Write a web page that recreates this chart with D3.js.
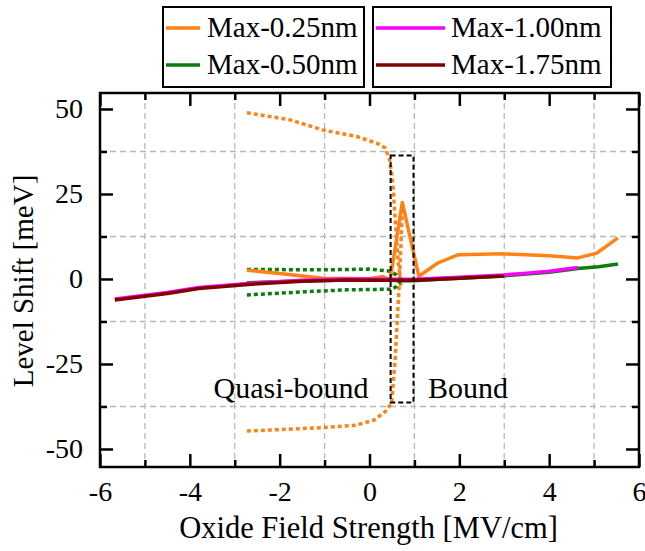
<!DOCTYPE html>
<html>
<head>
<meta charset="utf-8">
<script src="https://cdn.jsdelivr.net/npm/d3@7"></script>
<style>
  body { margin: 0; background: #fff; }
  text { font-family: "Liberation Serif", "Times New Roman", serif; fill: #000; }
</style>
</head>
<body>
<svg id="chart" width="645" height="551"></svg>
<script>
// data: [field MV/cm, shift meV]
var orangeSolid = [[-2.73,2.6],[-2,1.6],[-1.03,0.2],[0,0.1],[0.3,0.7],[0.46,-0.3],[0.73,22.5],[1.1,0.8],[1.52,4.7],[1.97,7.1],[2.97,7.4],[4,6.8],[4.64,6.2],[5.06,7.6],[5.53,12.1]];
var orangeUpper = [[-2.73,48.9],[-1.77,46.8],[-1.03,43.8],[-0.28,41.9],[0.17,39.9],[0.35,38.5],[0.45,35],[0.52,28],[0.58,16],[0.64,5],[0.7,-2]];
var orangeLower = [[-2.73,-44.7],[-2,-44.3],[-1,-43.7],[-0.3,-43],[0.1,-41.5],[0.35,-39],[0.49,-36.6],[0.57,-23.8],[0.62,-12],[0.66,-2],[0.7,10],[0.73,21]];
var greenSolid = [[-2.73,-1.1],[-1.5,-0.6],[-0.5,-0.3],[0.4,-0.3],[0.7,-0.5],[0.97,-0.5],[2,0.2],[2.97,0.9],[4,2.0],[4.64,3.1],[5.1,3.6],[5.53,4.4]];
var greenUpper = [[-2.73,2.8],[-1,2.7],[0,2.9],[0.45,2.3],[0.6,1.2],[0.7,-0.5]];
var greenLower = [[-2.73,-4.7],[-1.5,-3.8],[-0.5,-3.2],[0.5,-3.0],[0.6,-2.2],[0.7,-0.5]];
var magenta = [[-5.67,-5.9],[-4.5,-4.0],[-3.8,-2.5],[-2.7,-1.3],[-1.5,-0.4],[-0.5,0],[0.5,-0.1],[1,-0.1],[2,0.5],[3,1.2],[3.5,1.7],[4,2.3],[4.64,3.4]];
var brown = [[-5.67,-6.2],[-4.5,-4.3],[-3.8,-2.8],[-2.7,-1.6],[-1.5,-0.7],[-0.5,-0.3],[0.5,-0.4],[1,-0.4],[2,0.2],[3,0.9]];

var xMajor = [-6,-4,-2,0,2,4,6];
var xMinor = [-5,-3,-1,1,3,5];
var yMajor = [-50,-25,0,25,50];
var yMinor = [-37.5,-12.5,12.5,37.5];
var boxX = [0.47, 0.98];
var boxY = [-36.3, 36.3];

var legendNames = ["Max-0.25nm","Max-0.50nm","Max-1.00nm","Max-1.75nm"];
var legendColors = ["#ff8216","#0b7d0b","#ff00ff","#800000"];

var svg = d3.select("#chart");
var pLeft = 100, pRight = 639, pTop = 93, pBottom = 467;

var x = d3.scaleLinear().domain([-6, 6]).range([pLeft, pRight]);
var y = d3.scaleLinear().domain([-55.3, 54.7]).range([pBottom, pTop]);

// grid
var grid = svg.append("g").attr("stroke", "#b8b8b8").attr("stroke-width", 1.3).attr("stroke-dasharray", "6,4");
grid.selectAll("line.gx").data(xMinor).enter().append("line")
  .attr("x1", d => x(d)).attr("x2", d => x(d)).attr("y1", pTop).attr("y2", pBottom);
grid.selectAll("line.gy").data(yMinor).enter().append("line")
  .attr("y1", d => y(d)).attr("y2", d => y(d)).attr("x1", pLeft).attr("x2", pRight);

// series
var line = d3.line().x(d => x(d[0])).y(d => y(d[1]));
function drawSeries(data, color, dotted) {
  svg.append("path").datum(data)
    .attr("d", line)
    .attr("fill", "none")
    .attr("stroke", color)
    .attr("stroke-width", 3.5)
    .attr("stroke-linejoin", "round")
    .attr("stroke-dasharray", dotted ? "4,3" : null);
}
drawSeries(orangeUpper, legendColors[0], true);
drawSeries(orangeLower, legendColors[0], true);
drawSeries(greenUpper, legendColors[1], true);
drawSeries(greenLower, legendColors[1], true);
drawSeries(orangeSolid, legendColors[0], false);
drawSeries(greenSolid, legendColors[1], false);
drawSeries(magenta, legendColors[2], false);
drawSeries(brown, legendColors[3], false);

// dashed box
svg.append("rect")
  .attr("x", x(boxX[0])).attr("y", y(boxY[1]))
  .attr("width", x(boxX[1]) - x(boxX[0])).attr("height", y(boxY[0]) - y(boxY[1]))
  .attr("fill", "none").attr("stroke", "#000").attr("stroke-width", 2).attr("stroke-dasharray", "5,3");

svg.append("text").attr("x", 291).attr("y", 398).attr("text-anchor", "middle")
  .style("font-size", "30px").text("Quasi-bound");
svg.append("text").attr("x", 428).attr("y", 398)
  .style("font-size", "30px").text("Bound");

// axes, ticks pointing inward
var fmt = d => String(d);
function addAxis(axis, tx, ty) {
  var g = svg.append("g").attr("transform", "translate(" + tx + "," + ty + ")").call(axis);
  g.select(".domain").remove();
  g.selectAll(".tick line").attr("stroke", "#000").attr("stroke-width", 2.5);
  g.selectAll("text").style("font-size", "28px").style("font-family", "'Liberation Serif', serif");
  return g;
}
addAxis(d3.axisBottom(x).tickValues(xMajor).tickSize(-13).tickPadding(14).tickFormat(fmt), 0, pBottom);
addAxis(d3.axisBottom(x).tickValues(xMinor).tickSize(-7).tickFormat(""), 0, pBottom);
addAxis(d3.axisTop(x).tickValues(xMajor).tickSize(-13).tickFormat(""), 0, pTop);
addAxis(d3.axisTop(x).tickValues(xMinor).tickSize(-7).tickFormat(""), 0, pTop);
addAxis(d3.axisLeft(y).tickValues(yMajor).tickSize(-13).tickPadding(17).tickFormat(fmt), pLeft, 0);
addAxis(d3.axisLeft(y).tickValues(yMinor).tickSize(-7).tickFormat(""), pLeft, 0);
addAxis(d3.axisRight(y).tickValues(yMajor).tickSize(-13).tickFormat(""), pRight, 0);
addAxis(d3.axisRight(y).tickValues(yMinor).tickSize(-7).tickFormat(""), pRight, 0);

svg.append("rect").attr("x", pLeft).attr("y", pTop).attr("width", pRight - pLeft).attr("height", pBottom - pTop)
  .attr("fill", "none").attr("stroke", "#000").attr("stroke-width", 2.5);

// axis titles
svg.append("text").attr("x", (pLeft + pRight) / 2 - 1).attr("y", 538).attr("text-anchor", "middle")
  .style("font-size", "30.5px").text("Oxide Field Strength [MV/cm]");
svg.append("text").attr("transform", "translate(33,281) rotate(-90)").attr("text-anchor", "middle")
  .style("font-size", "29px").text("Level Shift [meV]");

// legend boxes
var boxes = [
  { x: 163, w: 201, lineX: [166, 200], textX: 207, items: [0, 1] },
  { x: 373, w: 238, lineX: [376, 445], textX: 451, items: [2, 3] }
];
boxes.forEach(function (b) {
  var g = svg.append("g");
  g.append("rect").attr("x", b.x).attr("y", 7).attr("width", b.w).attr("height", 80)
    .attr("fill", "#fff").attr("stroke", "#000").attr("stroke-width", 2);
  b.items.forEach(function (k, i) {
    var cy = 28 + i * 37;
    g.append("line").attr("x1", b.lineX[0]).attr("x2", b.lineX[1]).attr("y1", cy).attr("y2", cy)
      .attr("stroke", legendColors[k]).attr("stroke-width", 3.5);
    g.append("text").attr("x", b.textX).attr("y", cy + 9).style("font-size", "29px").text(legendNames[k]);
  });
});
</script>
</body>
</html>
